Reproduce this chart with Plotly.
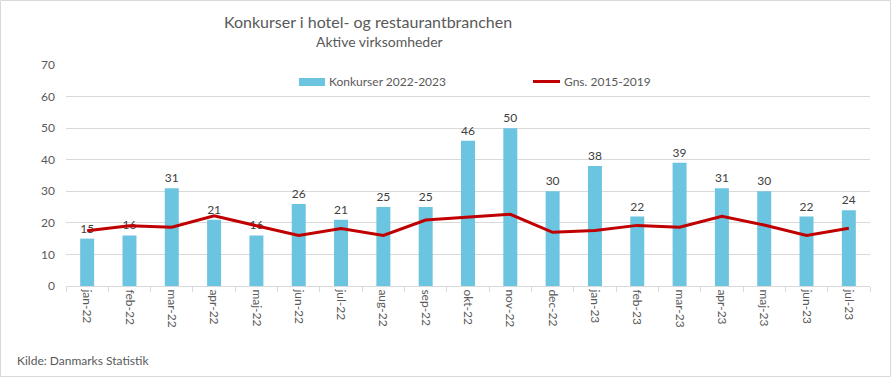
import plotly.graph_objects as go

months = ["jan-22", "feb-22", "mar-22", "apr-22", "maj-22", "jun-22", "jul-22", "aug-22", "sep-22",
          "okt-22", "nov-22", "dec-22", "jan-23", "feb-23", "mar-23", "apr-23", "maj-23", "jun-23", "jul-23"]
konkurser = [15, 16, 31, 21, 16, 26, 21, 25, 25, 46, 50, 30, 38, 22, 39, 31, 30, 22, 24]
gns_2015_2019 = [17.5, 19.1, 18.6, 22.2, 19.1, 16.0, 18.2, 16.0, 20.9, 21.8, 22.7, 17.0, 17.6, 19.2,
                 18.6, 22.1, 19.3, 16.0, 18.3]
y_ticks = [0, 10, 20, 30, 40, 50, 60, 70]

W, H = 891, 377
L, R, T, B = 66, 21, 65, 91
pw, ph = W - L - R, H - T - B
grey = "#595959"
font = "Lato"
bar_color = "#6BC4E0"
line_color = "#C00000"

fig = go.Figure()
fig.add_trace(go.Bar(
    x=months, y=konkurser, name="Konkurser 2022-2023",
    marker=dict(color=bar_color, line=dict(width=0)),
    text=konkurser, textposition="outside", cliponaxis=False,
    textfont=dict(size=12, color="#404040", family=font),
))
fig.add_trace(go.Scatter(
    x=months, y=gns_2015_2019, name="Gns. 2015-2019", mode="lines",
    line=dict(color=line_color, width=3),
))


def px_x(p):
    return (p - L) / pw


def px_y(p):
    return (H - B - p) / ph


def label(text, x, y, size, anchor="left"):
    return dict(text=text, xref="paper", yref="paper", x=px_x(x), y=px_y(y),
                xanchor=anchor, yanchor="middle", showarrow=False,
                font=dict(size=size, color=grey, family=font))


fig.update_layout(
    width=W, height=H,
    margin=dict(l=L, r=R, t=T, b=B),
    paper_bgcolor="white", plot_bgcolor="white",
    font=dict(family=font, color=grey, size=11),
    bargap=0.67,
    showlegend=False,
    xaxis=dict(
        type="category", tickangle=90, ticks="outside", tickson="boundaries",
        ticklen=5, tickcolor="#D9D9D9", showline=True, linecolor="#D9D9D9", linewidth=1,
        showgrid=False, tickfont=dict(size=12, color=grey, family=font),
    ),
    yaxis=dict(
        range=[0, 70], tickvals=y_ticks, showgrid=True, gridcolor="#D9D9D9", gridwidth=1,
        zeroline=False, showline=False, ticks="", ticklabelstandoff=10,
        tickfont=dict(size=12, color=grey, family=font),
    ),
    annotations=[
        label("Konkurser i hotel- og restaurantbranchen", 222, 21, 16, "left"),
        label("Aktive virksomheder", 379, 42, 14, "center"),
        label("Kilde: Danmarks Statistik", 15, 360, 12),
        label("Konkurser 2022-2023", 327, 82, 12),
        label("Gns. 2015-2019", 562, 82, 12),
    ],
    shapes=[
        dict(type="rect", xref="paper", yref="paper",
             x0=px_x(0.5), x1=px_x(W - 0.5), y0=px_y(H - 0.5), y1=px_y(0.5),
             line=dict(color="#D9D9D9", width=1), fillcolor="rgba(0,0,0,0)", layer="below"),
        dict(type="rect", xref="paper", yref="paper",
             x0=px_x(299), x1=px_x(325), y0=px_y(86), y1=px_y(78),
             line=dict(width=0), fillcolor=bar_color),
        dict(type="line", xref="paper", yref="paper",
             x0=px_x(533), x1=px_x(560), y0=px_y(81.5), y1=px_y(81.5),
             line=dict(color=line_color, width=3)),
    ],
)

fig.write_html("out.html", config={"displayModeBar": False},
               post_script="document.body.style.margin='0';document.body.style.overflow='hidden';")
